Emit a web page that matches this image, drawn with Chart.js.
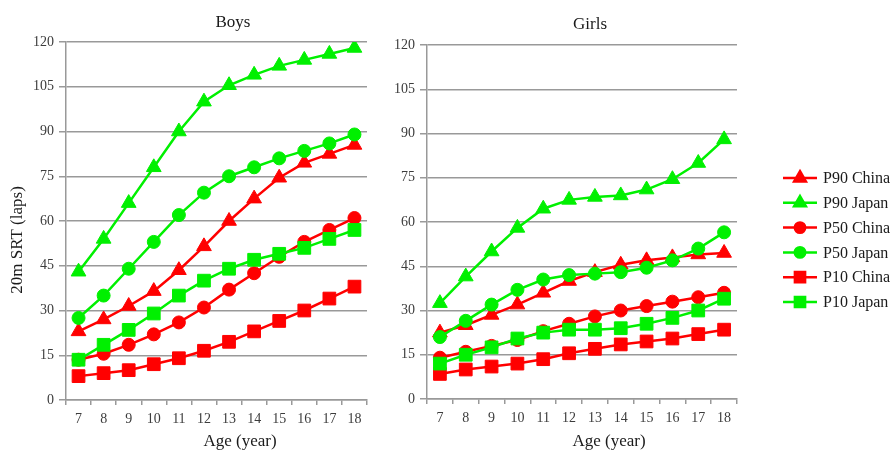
<!DOCTYPE html>
<html>
<head>
<meta charset="utf-8">
<script src="https://cdn.jsdelivr.net/npm/chart.js@4/dist/chart.umd.min.js"></script>
<style>
  html, body { margin: 0; padding: 0; background: #ffffff; }
  #wrap { position: relative; width: 892px; height: 453px; overflow: hidden; }
  #boys  { position: absolute; left: 0;     top: 0; }
  #girls { position: absolute; left: 380px; top: 0; }
</style>
</head>
<body>
<div id="wrap">
  <canvas id="boys" width="380" height="453"></canvas>
  <canvas id="girls" width="512" height="453"></canvas>
</div>
<script>
// Age groups (x categories)
const ages = ['7', '8', '9', '10', '11', '12', '13', '14', '15', '16', '17', '18'];

// y axis: 20m shuttle run laps
const yMin = 0;
const yMax = 120;
const yStep = 15;

// Boys percentiles
const boysP90China = [23, 27, 31.5, 36.5, 43.5, 51.5, 60, 67.5, 74.5, 79.5, 82.5, 85.5];
const boysP90Japan = [43, 54, 66, 78, 90, 100, 105.5, 109, 112, 114, 116, 118];
const boysP50China = [13.5, 15.5, 18.5, 22, 26, 31, 37, 42.5, 48, 53, 57, 61];
const boysP50Japan = [27.5, 35, 44, 53, 62, 69.5, 75, 78, 81, 83.5, 86, 89];
const boysP10China = [8, 9, 10, 12, 14, 16.5, 19.5, 23, 26.5, 30, 34, 38];
const boysP10Japan = [13.5, 18.5, 23.5, 29, 35, 40, 44, 47, 49, 51, 54, 57];

// Girls percentiles
const girlsP90China = [22.5, 25, 28.5, 32, 36, 40, 43, 45.5, 47, 48, 49, 49.5];
const girlsP90Japan = [32.5, 41.5, 50, 58, 64.5, 67.5, 68.5, 69, 71, 74.5, 80, 88];
const girlsP50China = [14, 16, 18, 20, 23, 25.5, 28, 30, 31.5, 33, 34.5, 36];
const girlsP50Japan = [21, 26.5, 32, 37, 40.5, 42, 42.5, 43, 44.5, 47, 51, 56.5];
const girlsP10China = [8.5, 10, 11, 12, 13.5, 15.5, 17, 18.5, 19.5, 20.5, 22, 23.5];
const girlsP10Japan = [12, 15, 17.5, 20.5, 22.5, 23.5, 23.5, 24, 25.5, 27.5, 30, 34];

// Series labels, in legend order
const seriesLabels = ['P90 China', 'P90 Japan', 'P50 China', 'P50 Japan', 'P10 China', 'P10 Japan'];

const RED = '#ff0000';
const GREEN = '#00f000';
const GRID = '#999999';
const TICK_COLOR = '#3c3c3c';
const SERIF = '"Liberation Serif", "Times New Roman", "DejaVu Serif", serif';

// marker style per series: [color, pointStyle, radius]
const seriesStyle = [
  [RED,   'triangle', 8.5],
  [GREEN, 'triangle', 8.5],
  [RED,   'circle',   6.5],
  [GREEN, 'circle',   6.5],
  [RED,   'rect',     9],
  [GREEN, 'rect',     9]
];

function buildDatasets(values) {
  return values.map((vals, i) => {
    const [color, style, r] = seriesStyle[i];
    return {
      label: seriesLabels[i],
      data: vals,
      borderColor: color,
      backgroundColor: color,
      borderWidth: 2.5,
      pointStyle: style,
      pointRadius: r,
      pointHoverRadius: r,
      pointBorderWidth: 1,
      pointBackgroundColor: color,
      pointBorderColor: color,
      tension: 0,
      fill: false,
      // Japan series sit on top of China series
      order: color === GREEN ? 0 : 1
    };
  });
}

// Free text (panel titles, axis titles) placed in canvas coordinates
const panelText = {
  id: 'panelText',
  afterDraw(chart, args, opts) {
    const ctx = chart.ctx;
    (opts.items || []).forEach(t => {
      ctx.save();
      ctx.font = (t.size || 17) + 'px ' + SERIF;
      ctx.fillStyle = t.color || '#1a1a1a';
      ctx.textAlign = 'center';
      ctx.textBaseline = 'middle';
      ctx.translate(t.x, t.y);
      if (t.rotate) ctx.rotate(t.rotate);
      ctx.fillText(t.text, 0, 0);
      ctx.restore();
    });
  }
};

// Legend with line + marker samples, drawn from the chart's datasets
const lineLegend = {
  id: 'lineLegend',
  afterDraw(chart, args, opts) {
    if (!opts.show) return;
    const ctx = chart.ctx;
    const ds = chart.data.datasets;
    seriesLabels.forEach((label, i) => {
      const d = ds.find(s => s.label === label);
      const y = opts.top + i * opts.gap;
      ctx.save();
      ctx.strokeStyle = d.borderColor;
      ctx.lineWidth = 2.5;
      ctx.beginPath();
      ctx.moveTo(opts.x, y);
      ctx.lineTo(opts.x + opts.lineLen, y);
      ctx.stroke();
      ctx.fillStyle = d.borderColor;
      const opt = { pointStyle: d.pointStyle, radius: d.pointRadius * 0.8, rotation: 0, borderWidth: 1 };
      Chart.helpers.drawPoint(ctx, opt, opts.x + opts.lineLen / 2, y);
      ctx.restore();
      ctx.save();
      ctx.font = '16px ' + SERIF;
      ctx.fillStyle = '#1a1a1a';
      ctx.textAlign = 'left';
      ctx.textBaseline = 'middle';
      ctx.fillText(label, opts.x + opts.lineLen + 6, y + 1);
      ctx.restore();
    });
  }
};

function makeChart(id, values, cfg) {
  return new Chart(document.getElementById(id), {
    type: 'line',
    data: { labels: ages, datasets: buildDatasets(values) },
    plugins: [panelText, lineLegend],
    options: {
      responsive: false,
      animation: false,
      devicePixelRatio: 1,
      layout: { padding: { top: cfg.top, right: cfg.right, bottom: 0, left: 0 } },
      plugins: {
        legend: { display: false },
        tooltip: { enabled: false },
        title: { display: false },
        panelText: { items: cfg.texts },
        lineLegend: cfg.legend || { show: false }
      },
      scales: {
        x: {
          type: 'category',
          offset: true,
          ticks: { color: TICK_COLOR, font: { family: SERIF, size: 14 }, padding: 6, maxRotation: 0, autoSkip: false },
          grid: { offset: true, drawOnChartArea: false, drawTicks: true, tickLength: 5, color: GRID, lineWidth: 1.5 },
          border: { display: true, color: GRID, width: 1.5 },
          afterFit: s => { s.height = cfg.xHeight; }
        },
        y: {
          min: yMin,
          max: yMax,
          ticks: { stepSize: yStep, color: TICK_COLOR, font: { family: SERIF, size: 14 }, padding: 5 },
          grid: { color: GRID, lineWidth: 1.5, tickLength: 7, drawTicks: true },
          border: { display: true, color: GRID, width: 1.5 },
          afterFit: s => { s.width = cfg.yWidth; }
        }
      }
    }
  });
}

makeChart('boys',
  [boysP90China, boysP90Japan, boysP50China, boysP50Japan, boysP10China, boysP10Japan],
  {
    top: 42, right: 13, yWidth: 66, xHeight: 53,
    texts: [
      { text: 'Boys', x: 233, y: 23, size: 17 },
      { text: 'Age (year)', x: 240, y: 442, size: 17 },
      { text: '20m SRT (laps)', x: 18, y: 240, size: 17, rotate: -Math.PI / 2 }
    ]
  });

makeChart('girls',
  [girlsP90China, girlsP90Japan, girlsP50China, girlsP50Japan, girlsP10China, girlsP10Japan],
  {
    top: 45, right: 155, yWidth: 47, xHeight: 54,
    texts: [
      { text: 'Girls', x: 210, y: 25, size: 17 },
      { text: 'Age (year)', x: 229, y: 442, size: 17 }
    ],
    legend: { show: true, x: 403, lineLen: 34, top: 178, gap: 24.8 }
  });
</script>
</body>
</html>
